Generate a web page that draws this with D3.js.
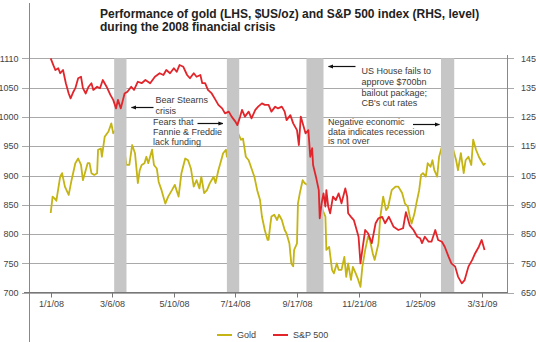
<!DOCTYPE html>
<html>
<head>
<meta charset="utf-8">
<script src="https://cdn.jsdelivr.net/npm/d3@7"></script>
<style>
body { margin: 0; background: #fff; }
svg { display: block; font-family: Arial, "Liberation Sans", sans-serif; }
</style>
</head>
<body>
<div id="chart"></div>
<script>
var goldDates = ['2008-01-01','2008-01-03','2008-01-05','2008-01-07','2008-01-11','2008-01-13','2008-01-16','2008-01-20','2008-01-23','2008-01-27','2008-01-30','2008-02-02','2008-02-04','2008-02-09','2008-02-11','2008-02-13','2008-02-16','2008-02-19','2008-02-20','2008-02-23','2008-02-24','2008-02-27','2008-03-02','2008-03-05','2008-03-07','2008-03-13','2008-03-19','2008-03-21','2008-03-24','2008-03-27','2008-03-30','2008-04-02','2008-04-04','2008-04-06','2008-04-09','2008-04-11','2008-04-13','2008-04-17','2008-04-19','2008-04-22','2008-04-24','2008-04-27','2008-05-01','2008-05-04','2008-05-08','2008-05-11','2008-05-15','2008-05-18','2008-05-22','2008-05-25','2008-05-28','2008-05-31','2008-06-03','2008-06-06','2008-06-08','2008-06-11','2008-06-14','2008-06-17','2008-06-21','2008-06-23','2008-06-26','2008-06-29','2008-07-01','2008-07-04','2008-07-05','2008-07-11','2008-07-16','2008-07-20','2008-07-22','2008-07-25','2008-07-28','2008-07-31','2008-08-03','2008-08-06','2008-08-09','2008-08-11','2008-08-14','2008-08-17','2008-08-18','2008-08-20','2008-08-21','2008-08-24','2008-08-27','2008-08-29','2008-09-01','2008-09-04','2008-09-06','2008-09-09','2008-09-11','2008-09-13','2008-09-14','2008-09-17','2008-09-18','2008-09-20','2008-09-23','2008-09-25','2008-10-02','2008-10-09','2008-10-17','2008-10-18','2008-10-21','2008-10-24','2008-10-26','2008-10-29','2008-10-31','2008-11-03','2008-11-06','2008-11-08','2008-11-10','2008-11-13','2008-11-15','2008-11-18','2008-11-20','2008-11-23','2008-11-25','2008-11-28','2008-12-01','2008-12-03','2008-12-06','2008-12-08','2008-12-12','2008-12-14','2008-12-17','2008-12-20','2008-12-22','2008-12-26','2008-12-30','2009-01-02','2009-01-06','2009-01-09','2009-01-12','2009-01-14','2009-01-16','2009-01-19','2009-01-21','2009-01-24','2009-01-26','2009-01-28','2009-01-31','2009-02-02','2009-02-05','2009-02-07','2009-02-09','2009-02-12','2009-02-14','2009-02-17','2009-02-23','2009-03-01','2009-03-04','2009-03-06','2009-03-09','2009-03-12','2009-03-14','2009-03-17','2009-03-20','2009-03-22','2009-03-25','2009-03-28','2009-03-30','2009-04-02','2009-04-04'];
var goldValues = [836,864,861,857,898,904,881,867,892,921,929,918,892,921,921,904,901,904,944,946,932,966,975,989,972,985,940,918,918,952,938,887,909,918,921,932,921,944,918,912,889,875,852,864,875,884,864,904,929,926,912,881,892,878,898,870,875,887,898,887,909,926,938,944,932,960,975,961,963,932,926,912,898,875,858,830,807,790,790,818,830,833,824,833,824,807,801,784,750,745,773,784,852,870,892,887,880,860,830,773,778,739,733,750,739,739,761,727,750,722,744,733,725,710,744,773,796,790,767,756,784,830,864,841,845,875,881,881,870,852,847,830,818,835,852,875,901,904,898,921,915,926,909,898,932,949,960,944,926,909,938,904,926,932,918,961,944,932,926,918,921];

var spDates = ['2008-01-01','2008-01-04','2008-01-06','2008-01-09','2008-01-11','2008-01-14','2008-01-17','2008-01-20','2008-01-22','2008-01-25','2008-01-27','2008-01-30','2008-02-02','2008-02-04','2008-02-07','2008-02-10','2008-02-13','2008-02-15','2008-02-19','2008-02-22','2008-02-25','2008-02-29','2008-03-04','2008-03-07','2008-03-10','2008-03-12','2008-03-15','2008-03-19','2008-03-22','2008-03-26','2008-03-29','2008-04-02','2008-04-06','2008-04-10','2008-04-15','2008-04-20','2008-04-25','2008-04-29','2008-05-02','2008-05-06','2008-05-10','2008-05-13','2008-05-16','2008-05-20','2008-05-24','2008-05-27','2008-05-31','2008-06-03','2008-06-07','2008-06-09','2008-06-12','2008-06-15','2008-06-19','2008-06-23','2008-06-26','2008-06-30','2008-07-03','2008-07-07','2008-07-10','2008-07-14','2008-07-16','2008-07-19','2008-07-21','2008-07-24','2008-07-28','2008-07-31','2008-08-04','2008-08-07','2008-08-11','2008-08-14','2008-08-18','2008-08-21','2008-08-25','2008-08-28','2008-09-01','2008-09-04','2008-09-06','2008-09-10','2008-09-13','2008-09-17','2008-09-19','2008-09-21','2008-09-24','2008-09-26','2008-09-29','2008-10-01','2008-10-03','2008-10-04','2008-10-07','2008-10-10','2008-10-11','2008-10-13','2008-10-15','2008-10-17','2008-10-18','2008-10-20','2008-10-22','2008-10-25','2008-10-28','2008-10-31','2008-11-03','2008-11-07','2008-11-09','2008-11-10','2008-11-13','2008-11-16','2008-11-19','2008-11-21','2008-11-23','2008-11-25','2008-11-28','2008-12-01','2008-12-05','2008-12-09','2008-12-12','2008-12-16','2008-12-19','2008-12-23','2008-12-28','2009-01-02','2009-01-07','2009-01-10','2009-01-14','2009-01-18','2009-01-22','2009-01-25','2009-01-27','2009-01-30','2009-02-03','2009-02-06','2009-02-10','2009-02-13','2009-02-17','2009-02-20','2009-02-24','2009-02-27','2009-03-03','2009-03-06','2009-03-10','2009-03-13','2009-03-17','2009-03-21','2009-03-24','2009-03-28','2009-03-31','2009-04-03'];
var spValues = [1450,1425,1410,1416,1399,1410,1365,1330,1313,1336,1348,1382,1387,1348,1330,1353,1365,1342,1353,1348,1376,1353,1325,1308,1279,1308,1279,1330,1336,1353,1342,1370,1365,1376,1365,1387,1399,1393,1410,1399,1416,1404,1427,1421,1393,1382,1399,1387,1393,1365,1365,1342,1330,1308,1291,1279,1262,1268,1251,1234,1222,1251,1274,1251,1268,1245,1274,1285,1296,1291,1291,1268,1285,1279,1285,1268,1239,1256,1228,1205,1154,1251,1217,1194,1205,1114,1143,1086,1046,1000,904,955,989,944,1000,944,921,978,966,989,955,1006,978,921,909,898,864,841,750,796,864,853,819,887,904,909,887,909,875,864,870,925,880,864,841,836,819,841,824,824,864,830,824,807,773,750,739,705,682,693,739,762,784,807,830,796];

var xTickDates = ['2008-01-01','2008-03-06','2008-05-10','2008-07-14','2008-09-17','2008-11-21','2009-01-25','2009-03-31'];
var xTickLabels = ['1/1/08','3/6/08','5/10/08','7/14/08','9/17/08','11/21/08','1/25/09','3/31/09'];
var goldTicks = [700, 750, 800, 850, 900, 950, 1000, 1050, 1100];
var goldTickLabels = ['700','750','800','850','900','950','1000','1050','1110'];
var spTicks = [650, 750, 850, 950, 1050, 1150, 1250, 1350, 1450];
var spTickLabels = ['650','750','850','950','1050','1150','1250','1350','1450'];

var bandStarts = ['2008-03-08','2008-07-05','2008-09-27','2009-02-16'];
var bandEnds = ['2008-03-21','2008-07-18','2008-10-15','2009-03-02'];

var seriesNames = ['Gold', 'S&P 500'];
var seriesColors = ['#c4b414', '#e2252b'];

var parse = d3.timeParse('%Y-%m-%d');

var svg = d3.select('#chart')
    .append('svg')
    .attr('width', 536)
    .attr('height', 342);

var x = d3.scaleTime()
    .domain([parse('2008-01-01'), parse('2009-03-31')])
    .range([50.7, 481.7]);
var yGold = d3.scaleLinear().domain([700, 1100]).range([292.7, 58.3]);
var ySp = d3.scaleLinear().domain([650, 1450]).range([292.7, 58.3]);

// title
svg.append('text')
    .attr('x', 100).attr('y', 17.5)
    .attr('font-size', 12).attr('font-weight', 'bold').attr('fill', '#222')
    .text('Performance of gold (LHS, $US/oz) and S&P 500 index (RHS, level)');
svg.append('text')
    .attr('x', 100).attr('y', 30.5)
    .attr('font-size', 12).attr('font-weight', 'bold').attr('fill', '#222')
    .text('during the 2008 financial crisis');

// gridlines
svg.append('g')
    .selectAll('line')
    .data(goldTicks)
    .join('line')
    .attr('x1', 22).attr('x2', 514)
    .attr('y1', d => Math.round(yGold(d)) + 0.5)
    .attr('y2', d => Math.round(yGold(d)) + 0.5)
    .attr('stroke', '#a9a9a9')
    .attr('stroke-width', 1);

// left axis labels
svg.append('g')
    .selectAll('text')
    .data(goldTicks)
    .join('text')
    .attr('x', 18.5)
    .attr('y', d => yGold(d) + 3.2)
    .attr('text-anchor', 'end')
    .attr('font-size', 9)
    .attr('fill', '#444')
    .text((d, i) => goldTickLabels[i]);

// right axis labels
svg.append('g')
    .selectAll('text')
    .data(spTicks)
    .join('text')
    .attr('x', 521)
    .attr('y', d => ySp(d) + 3.2)
    .attr('font-size', 9)
    .attr('fill', '#444')
    .text((d, i) => spTickLabels[i]);

// gold line (under the shaded bands)
var gold = goldDates.map((d, i) => ({ date: parse(d), value: goldValues[i] }));
var sp = spDates.map((d, i) => ({ date: parse(d), value: spValues[i] }));

svg.append('path')
    .datum(gold)
    .attr('fill', 'none')
    .attr('stroke', seriesColors[0])
    .attr('stroke-width', 1.8)
    .attr('stroke-linejoin', 'round')
    .attr('d', d3.line().x(d => x(d.date)).y(d => yGold(d.value)));

// shaded event bands
svg.append('g')
    .selectAll('rect')
    .data(bandStarts)
    .join('rect')
    .attr('x', d => x(parse(d)))
    .attr('width', (d, i) => x(parse(bandEnds[i])) - x(parse(d)))
    .attr('y', yGold(1100))
    .attr('height', yGold(700) - yGold(1100))
    .attr('fill', '#c6c6c6');

svg.append('path')
    .datum(sp)
    .attr('fill', 'none')
    .attr('stroke', seriesColors[1])
    .attr('stroke-width', 1.8)
    .attr('stroke-linejoin', 'round')
    .attr('d', d3.line().x(d => x(d.date)).y(d => ySp(d.value)));

// axes frame
svg.append('line')
    .attr('x1', 29.5).attr('x2', 29.5).attr('y1', 3).attr('y2', 342)
    .attr('stroke', '#888');
svg.append('line')
    .attr('x1', 507.5).attr('x2', 507.5).attr('y1', 55).attr('y2', 293)
    .attr('stroke', '#888');
svg.append('line')
    .attr('x1', 24).attr('x2', 508).attr('y1', 292.5).attr('y2', 292.5)
    .attr('stroke', '#777');

// x ticks
var xt = svg.append('g')
    .selectAll('g')
    .data(xTickDates)
    .join('g')
    .attr('transform', d => `translate(${Math.round(x(parse(d))) + 0.5},0)`);
xt.append('line')
    .attr('y1', 292.5).attr('y2', 297.5)
    .attr('stroke', '#777');
xt.append('text')
    .attr('y', 307)
    .attr('text-anchor', 'middle')
    .attr('font-size', 9)
    .attr('fill', '#444')
    .text((d, i) => xTickLabels[i]);

// annotations
svg.append('defs')
    .append('marker')
    .attr('id', 'head')
    .attr('viewBox', '0 0 10 10')
    .attr('refX', 9).attr('refY', 5)
    .attr('markerWidth', 5).attr('markerHeight', 5)
    .attr('markerUnits', 'userSpaceOnUse')
    .attr('orient', 'auto')
    .append('path')
    .attr('d', 'M0,1L10,5L0,9Z')
    .attr('fill', '#111');

var notes = [
    ['Bear Stearns', 'crisis'],
    ['Fears that', 'Fannie & Freddie', 'lack funding'],
    ['US House fails to', 'approve $700bn', 'bailout package;', "CB's cut rates"],
    ['Negative economic', 'data indicates recession', 'is not over']
];
var noteX = [155.5, 153, 361.5, 328];
var noteY = [102.5, 124.5, 74, 125];
var noteGap = [11, 10.3, 10.8, 9.6];

notes.forEach((lines, i) => {
    var t = svg.append('text')
        .attr('font-size', 9)
        .attr('fill', '#3a3a3a');
    lines.forEach((s, j) => {
        t.append('tspan')
            .attr('x', noteX[i])
            .attr('y', noteY[i] + j * noteGap[i])
            .text(s);
    });
});

var arrows = [
    { from: 153.5, to: x(parse(bandEnds[0])) + 5, y: 107.5 },
    { from: 197.5, to: x(parse(bandStarts[1])) - 4, y: 123.5 },
    { from: 355.5, to: x(parse(bandEnds[2])) + 5, y: 66.5 },
    { from: 413, to: x(parse(bandStarts[3])) - 1.5, y: 124.5 }
];
svg.append('g')
    .selectAll('line')
    .data(arrows)
    .join('line')
    .attr('x1', d => d.from).attr('x2', d => d.to)
    .attr('y1', d => d.y).attr('y2', d => d.y)
    .attr('stroke', '#111')
    .attr('stroke-width', 1.2)
    .attr('marker-end', 'url(#head)');

// legend
var legX = [217, 273];
var leg = svg.append('g')
    .selectAll('g')
    .data(seriesNames)
    .join('g')
    .attr('transform', (d, i) => `translate(${legX[i]},335)`);
leg.append('line')
    .attr('x1', 0).attr('x2', 15)
    .attr('stroke', (d, i) => seriesColors[i])
    .attr('stroke-width', 2);
leg.append('text')
    .attr('x', 20).attr('y', 3.2)
    .attr('font-size', 9)
    .attr('fill', '#444')
    .text(d => d);
</script>
</body>
</html>
